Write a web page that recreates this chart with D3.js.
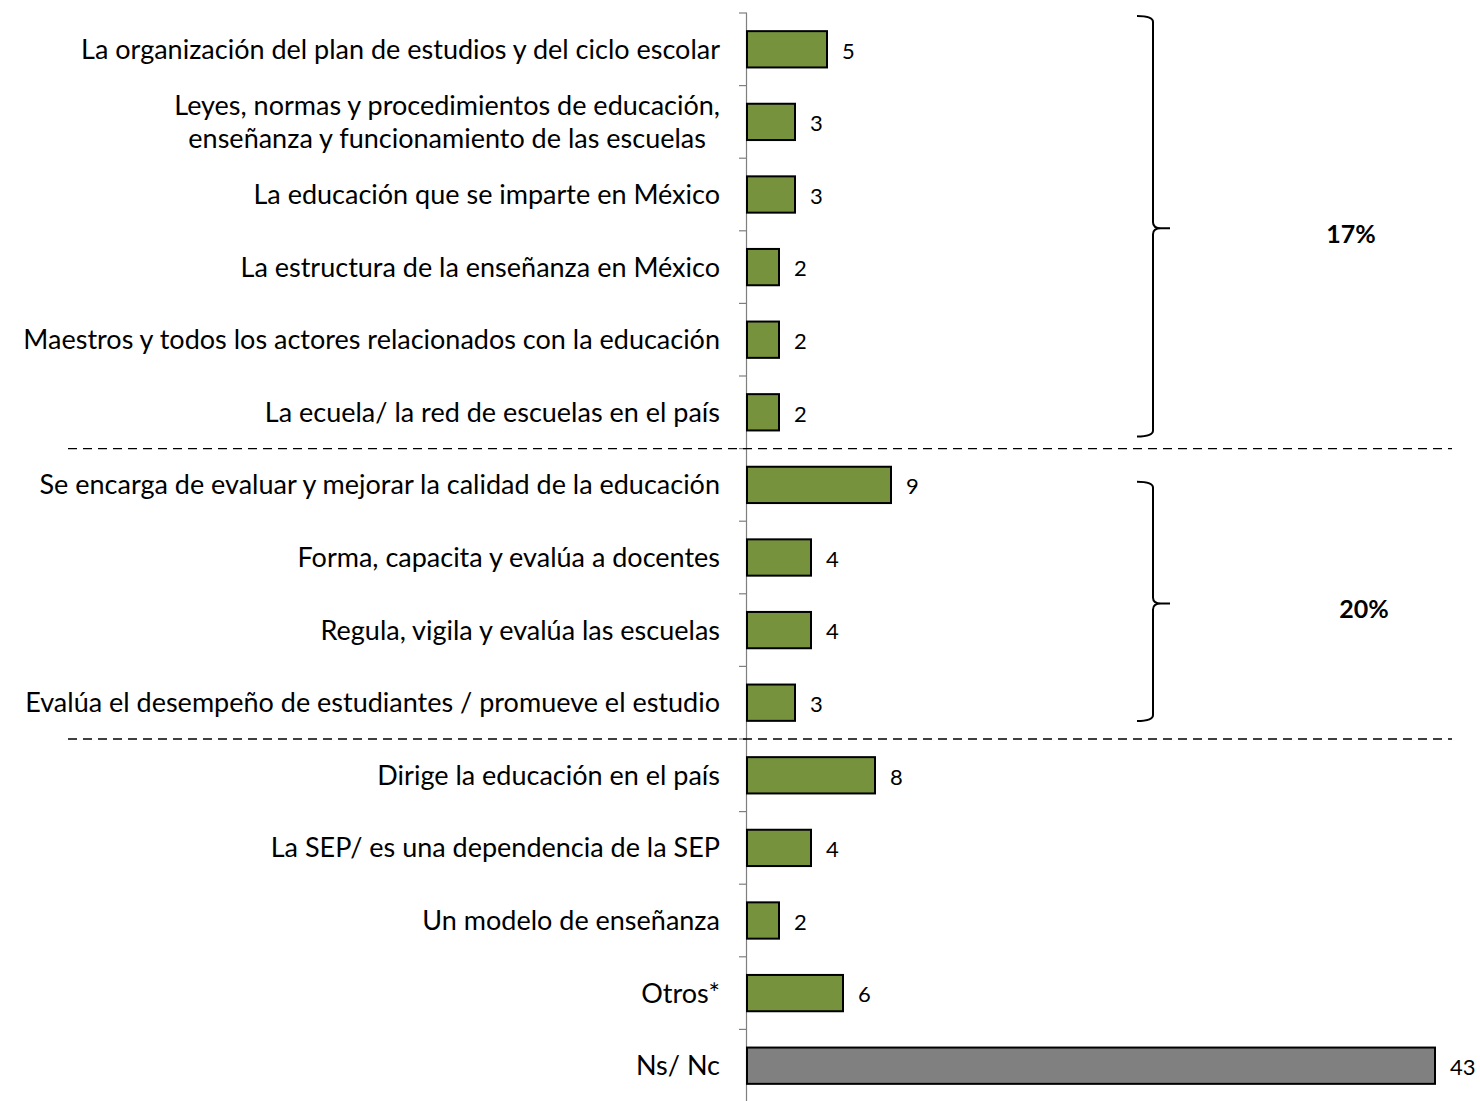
<!DOCTYPE html>
<html>
<head>
<meta charset="utf-8">
<script src="https://cdn.jsdelivr.net/npm/d3@7"></script>
<style>
  body { margin: 0; background: #fff; }
  svg { display: block; }
</style>
</head>
<body>
<div id="chart"></div>
<script>
// data
var categories = [
  ["La organización del plan de estudios y del ciclo escolar"],
  ["Leyes, normas y procedimientos de educación,", "enseñanza y funcionamiento de las escuelas"],
  ["La educación que se imparte en México"],
  ["La estructura de la enseñanza en México"],
  ["Maestros y todos los actores relacionados con la educación"],
  ["La ecuela/ la red de escuelas en el país"],
  ["Se encarga de evaluar y mejorar la calidad de la educación"],
  ["Forma, capacita y evalúa a docentes"],
  ["Regula, vigila y evalúa las escuelas"],
  ["Evalúa el desempeño de estudiantes / promueve el estudio"],
  ["Dirige la educación en el país"],
  ["La SEP/ es una dependencia de la SEP"],
  ["Un modelo de enseñanza"],
  ["Otros*"],
  ["Ns/ Nc"]
];
var values = [5, 3, 3, 2, 2, 2, 9, 4, 4, 3, 8, 4, 2, 6, 43];
var greyIndex = [14];
var groupBreaks = [6, 10];          // dashed separators before these rows
var groupSpans = [[0, 5], [6, 9]];  // rows covered by braces
var groupLabels = ["17%", "20%"];

var W = 1480, H = 1101;
var svg = d3.select("#chart").append("svg")
  .attr("width", W).attr("height", H);

var idx = d3.range(categories.length);

var y = d3.scaleBand()
  .domain(idx)
  .range([13, 1102])
  .paddingInner(0.5)
  .paddingOuter(0.25);

var x = d3.scaleLinear()
  .domain([0, 43])
  .range([747, 1435]);

var step = y.step();
function rowTop(i) { return y(i) - y.bandwidth() * 0.5; }

// axis line with ticks between categories
svg.append("line")
  .attr("x1", x(0) - 0.5).attr("x2", x(0) - 0.5)
  .attr("y1", rowTop(0)).attr("y2", H)
  .attr("stroke", "#7f7f7f").attr("stroke-width", 1.2);

svg.selectAll(".tick")
  .data(d3.range(categories.length + 1))
  .enter().append("line")
  .attr("x1", x(0) - 8).attr("x2", x(0))
  .attr("y1", function(d) { return 13 + d * step; })
  .attr("y2", function(d) { return 13 + d * step; })
  .attr("stroke", "#7f7f7f").attr("stroke-width", 1.2);

// dashed separators
svg.selectAll(".sep")
  .data(groupBreaks)
  .enter().append("line")
  .attr("x1", 68).attr("x2", 1452)
  .attr("y1", function(d) { return 13 + d * step; })
  .attr("y2", function(d) { return 13 + d * step; })
  .attr("stroke", "#000").attr("stroke-width", 1.3)
  .attr("stroke-dasharray", "9,6");

// bars
svg.selectAll(".bar")
  .data(idx)
  .enter().append("rect")
  .attr("x", x(0))
  .attr("y", function(d) { return y(d); })
  .attr("width", function(d) { return x(values[d]) - x(0); })
  .attr("height", y.bandwidth())
  .attr("fill", function(d) { return greyIndex.indexOf(d) >= 0 ? "#808080" : "#76923c"; })
  .attr("stroke", "#000").attr("stroke-width", 2);

// value labels
svg.selectAll(".val")
  .data(idx)
  .enter().append("text")
  .attr("x", function(d) { return x(values[d]) + 15; })
  .attr("y", function(d) { return y(d) + y.bandwidth() / 2; })
  .attr("dy", "0.42em")
  .style("font-family", "Lato, sans-serif")
  .style("font-size", "22px")
  .text(function(d) { return values[d]; });

// category labels (multi-line labels centered within a right-aligned block)
idx.forEach(function(i) {
  var lines = categories[i];
  var cy = y(i) + y.bandwidth() / 2;
  var g = svg.append("g");
  var lh = 33;
  var texts = lines.map(function(s, k) {
    return g.append("text")
      .attr("y", cy + (k - (lines.length - 1) / 2) * lh)
      .attr("dy", "0.35em")
      .style("font-family", "Lato, sans-serif")
      .style("font-size", "27px")
      .text(s);
  });
  var maxW = d3.max(texts, function(t) { return t.node().getComputedTextLength(); });
  texts.forEach(function(t) {
    t.attr("x", 720 - maxW / 2).attr("text-anchor", "middle");
  });
});

// braces with group totals
groupSpans.forEach(function(s, k) {
  var top = k === 0 ? rowTop(s[0]) + 3 : y(s[0]) + 15;
  var bot = k === 0 ? rowTop(s[1] + 1) - 12 : rowTop(s[1] + 1) - 18;
  var mid = (top + bot) / 2 + 2;
  var bx = 1153;
  var p = "M1137," + top + " Q" + bx + "," + top + " " + bx + "," + (top + 6) +
    " L" + bx + "," + (mid - 6) + " Q" + bx + "," + mid + " 1161," + mid +
    " L1170," + mid +
    " M1161," + mid + " Q" + bx + "," + mid + " " + bx + "," + (mid + 6) +
    " L" + bx + "," + (bot - 6) + " Q" + bx + "," + bot + " 1137," + bot;
  svg.append("path").attr("d", p)
    .attr("fill", "none").attr("stroke", "#000").attr("stroke-width", 2);
  svg.append("text")
    .attr("x", k === 0 ? 1351 : 1364)
    .attr("y", mid + 6)
    .attr("dy", "0.35em")
    .attr("text-anchor", "middle")
    .style("font-family", "Lato, sans-serif")
    .style("font-size", "25px")
    .style("font-weight", "bold")
    .text(groupLabels[k]);
});
</script>
</body>
</html>
